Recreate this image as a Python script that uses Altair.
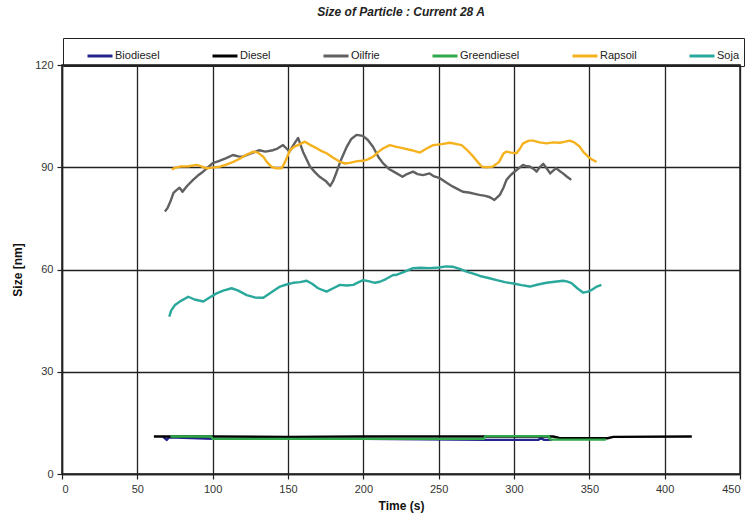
import altair as alt
import pandas as pd

series_names = ["Biodiesel", "Diesel", "Oilfrie", "Greendiesel", "Rapsoil", "Soja"]
series_colors = ["#23238C", "#000000", "#606060", "#2EA84A", "#F5B21E", "#2AA89C"]

biodiesel_x = [67, 69.5, 71, 100, 200, 281, 316, 318, 320, 325]
biodiesel_y = [11, 10.0, 10.8, 10.3, 10.3, 10.0, 10.0, 10.5, 10.0, 10.0]

diesel_x = [61, 72, 100, 150, 200, 250, 300, 326, 330, 362, 366, 418]
diesel_y = [11, 11, 11, 10.9, 11, 11, 11, 11, 10.6, 10.5, 10.9, 11]

greendiesel_x = [72, 99, 100, 280, 281, 323, 324, 361]
greendiesel_y = [11, 11, 10.3, 10.3, 11.1, 11.1, 10.1, 10.1]

oilfrie_x = [68.3, 70, 72, 74, 76, 78, 80, 83, 87, 90, 93.6, 97, 100, 104, 109, 113.5, 117, 120,
             125, 131, 135, 140, 143, 146.7, 149, 151, 154, 156.7, 160, 164.6, 168, 171, 175, 178,
             180, 182, 185, 189, 192, 195.5, 199.7, 203, 206.4, 210, 213, 217, 221, 226, 229, 233,
             236, 239.6, 244, 247, 250.8, 255, 259.5, 263, 266, 270, 274, 277, 281, 284, 287,
             290.6, 293, 295, 298, 301.7, 306, 308, 310.5, 313, 315, 317, 319.4, 322, 324, 326,
             328, 330, 332.5, 335, 338]
oilfrie_y = [77, 78, 80, 82.5, 83.3, 84, 82.8, 84.5, 86.3, 87.5, 88.7, 90, 91.2, 91.8, 92.7, 93.6, 93.2, 93.1,
             94, 95, 94.6, 95, 95.5, 96.5, 95.5, 94.6, 96.8, 98.6, 94.5, 90.2, 88.5, 87.2, 86, 84.5,
             86, 88.3, 92, 96, 98.3, 99.5, 99.2, 98, 96, 93, 91.2, 89.5, 88.5, 87.2, 88, 88.7,
             88, 87.7, 88.2, 87.3, 86.8, 85.5, 84.3, 83.5, 82.8, 82.6, 82.2, 81.9, 81.6, 81.2, 80.4,
             81.9, 84, 86.3, 87.8, 89.2, 90.7, 90.3, 90.2, 89.5, 88.7, 90, 91, 89.5, 88.2, 89,
             89.7, 89, 88.2, 87.3, 86.3]

rapsoil_x = [72.8, 75, 78.3, 84, 89.4, 92, 96, 100, 104.8, 109, 113.7, 118, 122, 127, 130, 133.6, 136,
             139, 142, 145.8, 148, 151.3, 154, 158, 161.2, 165, 169, 172, 175.6, 180, 184.5, 188, 191,
             196, 200, 203, 206.6, 210, 213, 217.6, 222, 226, 232, 237.6, 242, 246.4, 252, 257.5, 262,
             265.2, 269, 273, 276, 278.5, 282, 286, 290, 293, 295, 298, 301.7, 304, 306, 310, 312.7,
             317, 321.6, 326, 330.5, 334, 337, 340, 343.7, 346, 349.2, 352, 354.8]
rapsoil_y = [89.4, 89.8, 90.2, 90.3, 90.7, 90.3, 89.7, 89.9, 90.2, 90.8, 91.6, 92.5, 93.6, 94.6, 94.3, 93.1, 91.5,
             90.2, 89.7, 89.7, 91.5, 95, 96, 96.8, 97.5, 96.5, 95.6, 94.8, 94.1, 92.8, 91.6, 91.1, 91.3,
             91.8, 91.9, 92.3, 93.1, 94.5, 95.5, 96.5, 96, 95.6, 95, 94.3, 95.5, 96.5, 96.8, 97.2, 96.8,
             96.5, 95, 93.1, 91.5, 90.2, 90, 90.2, 91.5, 94, 94.6, 94.3, 94.1, 95.5, 97, 97.8, 97.8,
             97.3, 97, 97.3, 97.2, 97.5, 97.8, 97.3, 96, 94.5, 93.1, 92.2, 91.6]

soja_x = [71.2, 72.5, 75, 79, 83.8, 88, 93.8, 98, 102.6, 107, 112.6, 117, 122.6, 128, 133.6, 139, 144.7,
          149, 153.5, 158, 162.4, 166, 170, 175.6, 180, 184.5, 189, 193.3, 197, 200, 204, 207.7, 211,
          215, 219.8, 222, 227, 233, 238, 244, 250, 255, 259.7, 264, 268.5, 273, 277.4, 283, 288.5,
          294, 299.5, 305, 310.5, 316, 321.6, 327, 332.6, 335, 338.2, 342, 346, 349, 351.5, 355, 358]
soja_y = [46.2, 48, 49.6, 50.8, 52, 51.2, 50.6, 51.8, 53, 53.8, 54.5, 53.8, 52.5, 51.8, 51.7, 53.3, 55,
          55.6, 56.1, 56.3, 56.7, 55.8, 54.5, 53.5, 54.5, 55.5, 55.3, 55.5, 56.3, 56.9, 56.5, 56.1, 56.4,
          57.2, 58.4, 58.4, 59.3, 60.4, 60.5, 60.4, 60.6, 60.9, 60.8, 60.2, 59.4, 58.8, 58.1, 57.5, 56.9,
          56.3, 55.9, 55.4, 55, 55.6, 56.1, 56.4, 56.7, 56.5, 56, 54.5, 53.2, 53.5, 54, 55, 55.5]

x_ticks = [0, 50, 100, 150, 200, 250, 300, 350, 400, 450]
y_ticks = [0, 30, 60, 90, 120]

series_data = [
    ("Biodiesel", biodiesel_x, biodiesel_y),
    ("Diesel", diesel_x, diesel_y),
    ("Oilfrie", oilfrie_x, oilfrie_y),
    ("Greendiesel", greendiesel_x, greendiesel_y),
    ("Rapsoil", rapsoil_x, rapsoil_y),
    ("Soja", soja_x, soja_y),
]
rows = []
for k, (name, xs, ys) in enumerate(series_data):
    for i, (xv, yv) in enumerate(zip(xs, ys)):
        rows.append({"series": name, "time": xv, "size": yv, "k": k, "i": i})
df = pd.DataFrame(rows)

FONT = "Liberation Sans Narrow, Arial Narrow, Liberation Sans, Arial, sans-serif"

chart = alt.Chart(df).mark_line(strokeWidth=2.4, strokeJoin="round").encode(
    x=alt.X("time:Q", scale=alt.Scale(domain=[0, 450], nice=False, zero=False),
            axis=alt.Axis(values=x_ticks, title="Time (s)", grid=True)),
    y=alt.Y("size:Q", scale=alt.Scale(domain=[0, 120], nice=False),
            axis=alt.Axis(values=y_ticks, title="Size [nm]", grid=True)),
    color=alt.Color("series:N", scale=alt.Scale(domain=series_names, range=series_colors),
                    sort=series_names,
                    legend=alt.Legend(title=" ", titleOrient="left", titlePadding=19,
                                      orient="none", direction="horizontal",
                                      legendX=1, legendY=-27, columns=6,
                                      symbolType="stroke", symbolSize=625, symbolStrokeWidth=3,
                                      columnPadding=46, labelOffset=1,
                                      labelFont=FONT, labelFontSize=11, labelColor="#222",
                                      strokeColor="#222", padding=4, labelLimit=200)),
    detail="series:N",
    order="i:Q",
).properties(
    width=678, height=409,
    title=alt.TitleParams("Size of Particle : Current 28 A", font=FONT, fontSize=12,
                          fontWeight="bold", fontStyle="italic", color="#222", offset=19),
    autosize=alt.AutoSizeParams(type="none"),
    padding={"left": 62, "top": 65, "right": 13, "bottom": 48},
).configure_view(
    stroke="#222", strokeWidth=1.5
).configure_axis(
    labelFont=FONT, labelFontSize=11, labelColor="#333",
    titleFont=FONT, titleFontSize=12, titleFontWeight="bold", titleColor="#111",
    gridColor="#222", gridWidth=1.3, gridOpacity=1,
    domainColor="#222", domainWidth=1.5, tickColor="#222", tickSize=5, tickWidth=1.2,
).configure_axisX(titlePadding=6, labelPadding=4).configure_axisY(titlePadding=10, labelPadding=4)

chart.save("out.html", embed_options={"renderer": "svg", "actions": False})
